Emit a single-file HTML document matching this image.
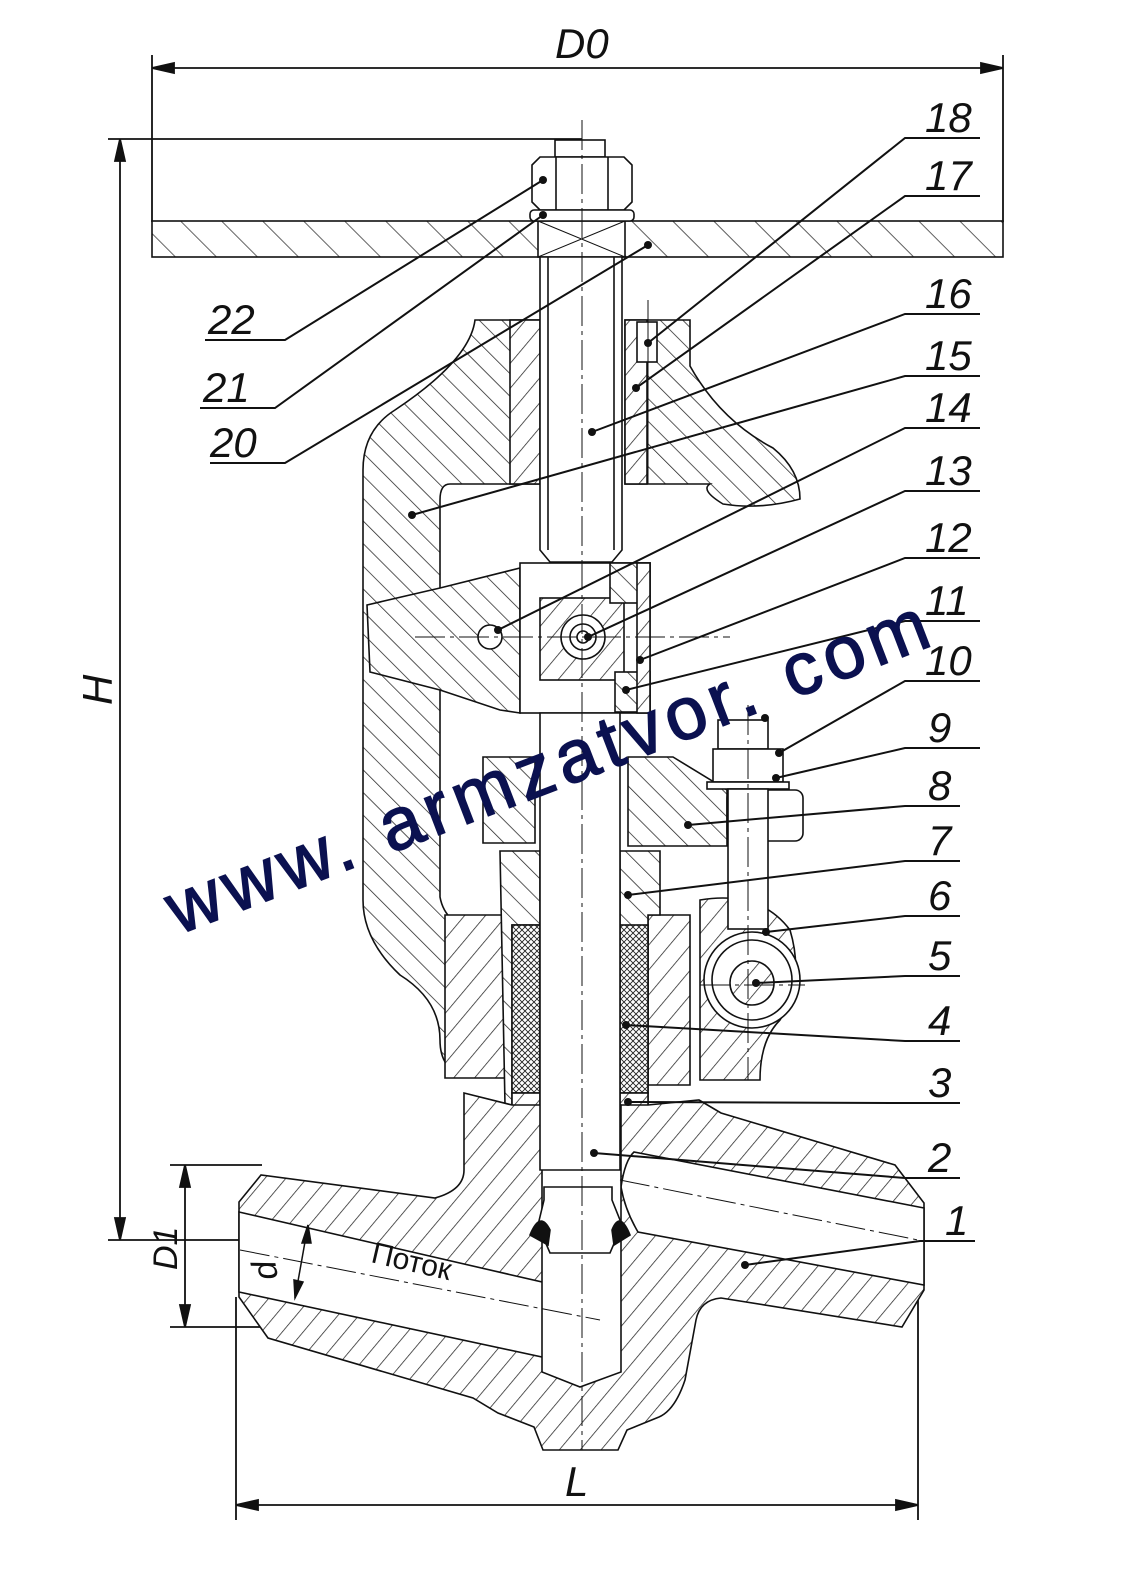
<!DOCTYPE html>
<html><head><meta charset="utf-8"><style>
html,body{margin:0;padding:0;background:#fff}
svg{display:block}
.n{font-family:"Liberation Sans",sans-serif;font-style:italic;font-size:42px;fill:#111}
</style></head><body>
<svg width="1123" height="1582" viewBox="0 0 1123 1582" xmlns="http://www.w3.org/2000/svg">
<defs>
<pattern id="h" width="16" height="16" patternUnits="userSpaceOnUse" patternTransform="rotate(40)">
<rect width="16" height="16" fill="#fff"/><line x1="0" y1="0" x2="0" y2="16" stroke="#222" stroke-width="1.5"/></pattern>
<pattern id="h2" width="16" height="16" patternUnits="userSpaceOnUse" patternTransform="rotate(-45)">
<rect width="16" height="16" fill="#fff"/><line x1="0" y1="0" x2="0" y2="16" stroke="#222" stroke-width="1.5"/></pattern>
<pattern id="hw" width="29" height="29" patternUnits="userSpaceOnUse" patternTransform="rotate(-45)">
<rect width="29" height="29" fill="#fff"/><line x1="0" y1="0" x2="0" y2="29" stroke="#222" stroke-width="1.4"/></pattern>
<pattern id="x" width="6" height="6" patternUnits="userSpaceOnUse">
<rect width="6" height="6" fill="#fff"/><path d="M0 0L6 6M6 0L0 6" stroke="#222" stroke-width="0.9"/></pattern>
</defs>
<g stroke="#111" stroke-width="1.8" fill="none">
<line x1="152" y1="55" x2="152" y2="222"/><line x1="1003" y1="55" x2="1003" y2="222"/>
<line x1="152" y1="68" x2="1003" y2="68"/>
<path d="M152 68l22-5v10zM1003 68l-22-5v10z" fill="#111"/>
<line x1="108" y1="139" x2="582" y2="139"/>
<line x1="120" y1="139" x2="120" y2="1240"/>
<line x1="108" y1="1240" x2="255" y2="1240"/>
<path d="M120 139l-5 22h10zM120 1240l-5-22h10z" fill="#111"/>
<line x1="170" y1="1165" x2="262" y2="1165"/><line x1="170" y1="1327" x2="268" y2="1327"/>
<line x1="185" y1="1165" x2="185" y2="1327"/>
<path d="M185 1165l-5 22h10zM185 1327l-5-22h10z" fill="#111"/>
<line x1="236" y1="1297" x2="236" y2="1520"/><line x1="918" y1="1290" x2="918" y2="1520"/>
<line x1="236" y1="1505" x2="918" y2="1505"/>
<path d="M236 1505l22-5v10zM918 1505l-22-5v10z" fill="#111"/>
</g>
<g stroke="#111" stroke-width="1.6">
<rect x="152" y="221" width="851" height="36" fill="url(#hw)"/>
<rect x="538" y="221" width="87" height="36" fill="#fff"/>
<path d="M538 221L625 257M625 221L538 257" fill="none" stroke-width="1"/>
<rect x="555" y="140" width="50" height="17" fill="#fff"/>
<path d="M532 165l8-8h84l8 8v37l-8 8h-84l-8-8z" fill="#fff"/>
<line x1="556" y1="157" x2="556" y2="210"/><line x1="608" y1="157" x2="608" y2="210"/>
<rect x="530" y="210" width="104" height="11" rx="4" fill="#fff"/>

<path d="M475 320H540V484H450Q440 484 440 500V897Q445 925 480 933V1075H465Q440 1070 440 1040Q440 1000 400 975Q363 940 363 900V470Q363 430 395 410Q470 360 475 320Z" fill="url(#h2)"/>
<path d="M625 320H690V366Q720 420 773 448Q800 470 800 499Q760 510 723 504Q700 490 710 484H625Z" fill="url(#h2)"/>
<rect x="510" y="320" width="30" height="164" fill="url(#h)"/>
<rect x="625" y="320" width="22" height="164" fill="url(#h)"/>
<rect x="637" y="322" width="20" height="40" fill="#fff"/>
<line x1="648" y1="300" x2="648" y2="484" stroke-width="1"/>
<path d="M367 605L440 588L520 568V713L500 710L440 690L370 672Z" fill="url(#h2)"/>
<rect x="520" y="563" width="130" height="150" fill="#fff"/>
<rect x="540" y="598" width="84" height="82" fill="url(#h)"/>
<rect x="610" y="563" width="40" height="40" fill="url(#h2)"/>
<rect x="615" y="672" width="35" height="40" fill="url(#h2)"/>
<rect x="637" y="563" width="13" height="150" fill="url(#h)"/>
<circle cx="583" cy="637" r="22" fill="#fff"/><circle cx="583" cy="637" r="13" fill="none"/><circle cx="583" cy="637" r="6" fill="none"/>
<circle cx="490" cy="637" r="12" fill="#fff"/>
<path d="M540 257H622V550L612 562H550L540 550Z" fill="#fff"/>
<line x1="548" y1="257" x2="548" y2="550"/><line x1="614" y1="257" x2="614" y2="550"/>
<path d="M483 757H535V843H483Z" fill="url(#h2)"/>
<path d="M628 757H673L727 790V846H628Z" fill="url(#h2)"/>
<rect x="727" y="790" width="76" height="51" rx="8" fill="#fff"/>
<path d="M445 915H512V1078H445Z" fill="url(#h)"/>
<path d="M648 915H690V1085H648Z" fill="url(#h)"/>
<path d="M500 851H540V925H512V1105H505Z" fill="url(#h2)"/>
<path d="M620 851H660V915H648V1105H620Z" fill="url(#h2)"/>
<rect x="512" y="925" width="28" height="168" fill="url(#x)"/>
<rect x="620" y="925" width="28" height="168" fill="url(#x)"/>
<rect x="512" y="1093" width="28" height="14" fill="url(#h)"/>
<rect x="620" y="1093" width="28" height="14" fill="url(#h)"/>
<path d="M700 900Q760 890 790 930Q805 980 780 1020Q760 1040 760 1080H700Z" fill="url(#h)"/>
<path d="M239 1202L261 1175L435 1198Q464 1190 464 1170V1093L512 1105H648L699 1100L721 1113L895 1165L924 1203V1290L902 1327L721 1298Q700 1300 696 1320L685 1380Q675 1410 659 1417L627 1430L618 1450H543L534 1427L498 1413L473 1398L268 1338L239 1297Z" fill="url(#h)"/>
<path d="M239 1212L542 1282L578 1328L542 1357L239 1292Z" fill="#fff"/>
<path d="M621 1187Q625 1160 634 1152L924 1208V1285L638 1232Q625 1210 621 1187Z" fill="#fff"/>
<path d="M542 1105H621V1372L580 1387L542 1372Z" fill="#fff"/>
<path d="M544 1187H612V1200L622 1225L610 1253H550L538 1225L544 1200Z" fill="#fff"/>
<path d="M530 1235Q540 1210 550 1230L548 1245ZM630 1235Q620 1210 612 1230L614 1245Z" fill="#111"/>
<path d="M540 713H620V1170H540Z" fill="#fff"/>
<rect x="718" y="720" width="50" height="29" fill="#fff"/>
<rect x="713" y="749" width="70" height="33" fill="#fff"/>
<rect x="707" y="782" width="82" height="7" fill="#fff"/>
<rect x="728" y="789" width="40" height="140" fill="#fff"/>
<circle cx="752" cy="980" r="48" fill="#fff"/>
<circle cx="752" cy="980" r="40" fill="none"/>
<circle cx="752" cy="983" r="22" fill="url(#h)"/>
</g>
<g stroke="#111" stroke-width="1" stroke-dasharray="30 5 4 5" fill="none">
<line x1="582" y1="120" x2="582" y2="1450"/>
<line x1="415" y1="637" x2="730" y2="637"/>
<line x1="240" y1="1250" x2="600" y2="1320"/>
<line x1="620" y1="1180" x2="918" y2="1240"/>
<line x1="748" y1="705" x2="748" y2="1080"/>
<line x1="700" y1="985" x2="805" y2="985"/>
</g>
<g stroke="#111" stroke-width="1.5"><line x1="308" y1="1225" x2="295" y2="1298"/>
<path d="M308 1225l-6 18h9zM295 1298l-1-18 9 2z" fill="#111"/></g>
<text x="370" y="1262" font-family="Liberation Sans,sans-serif" font-size="30" fill="#111" transform="rotate(13 370 1262)">Поток</text>
<g stroke="#111" stroke-width="2" fill="none">
<path d="M980 138H905L648 343M980 196H905L636 388M980 314H905L592 432M980 376H905L412 515M980 428H905L498 630M980 491H905L588 637M980 558H905L640 660M980 621H905L626 690M980 681H905L779 753M980 748H905L776 778M960 806H905L688 825M960 861H905L628 895M960 916H905L766 932M960 976H905L756 983M960 1041H905L626 1025M960 1103H905L628 1102M960 1178H905L594 1153M975 1241H920L745 1265"/>
<path d="M205 340H285L543 180M200 408H275L543 215M210 463H285L648 245"/>
</g>
<g fill="#111">
<circle cx="648" cy="343" r="4"/><circle cx="636" cy="388" r="4"/><circle cx="592" cy="432" r="4"/><circle cx="412" cy="515" r="4"/><circle cx="498" cy="630" r="4"/><circle cx="588" cy="637" r="4"/><circle cx="640" cy="660" r="4"/><circle cx="626" cy="690" r="4"/><circle cx="779" cy="753" r="4"/><circle cx="765" cy="718" r="4"/><circle cx="776" cy="778" r="4"/><circle cx="688" cy="825" r="4"/><circle cx="628" cy="895" r="4"/><circle cx="766" cy="932" r="4"/><circle cx="756" cy="983" r="4"/><circle cx="626" cy="1025" r="4"/><circle cx="628" cy="1102" r="4"/><circle cx="594" cy="1153" r="4"/><circle cx="745" cy="1265" r="4"/><circle cx="543" cy="180" r="4"/><circle cx="543" cy="215" r="4"/><circle cx="648" cy="245" r="4"/>
</g>
<g class="n">
<text x="925" y="132">18</text><text x="925" y="190">17</text><text x="925" y="308">16</text><text x="925" y="370">15</text><text x="925" y="422">14</text><text x="925" y="485">13</text><text x="925" y="552">12</text><text x="925" y="615">11</text><text x="925" y="675">10</text><text x="928" y="742">9</text><text x="928" y="800">8</text><text x="928" y="855">7</text><text x="928" y="910">6</text><text x="928" y="970">5</text><text x="928" y="1035">4</text><text x="928" y="1097">3</text><text x="928" y="1172">2</text><text x="945" y="1235">1</text>
<text x="208" y="334">22</text><text x="203" y="402">21</text><text x="210" y="457">20</text>
<text x="555" y="58">D0</text><text x="565" y="1496">L</text>
<text x="0" y="0" transform="translate(112 705) rotate(-90)">H</text>
<text x="0" y="0" font-size="34" transform="translate(177 1270) rotate(-90)">D1</text>
<text x="0" y="0" font-size="34" transform="translate(278 1278) rotate(-100)">d</text>
</g>
<text x="0" y="0" transform="translate(178 935) rotate(-21)" font-family="Liberation Sans,sans-serif" font-size="74" fill="#0b1150" stroke="#0b1150" stroke-width="1.5" textLength="810" lengthAdjust="spacing">www. armzatvor. com</text>
</svg>
</body></html>
